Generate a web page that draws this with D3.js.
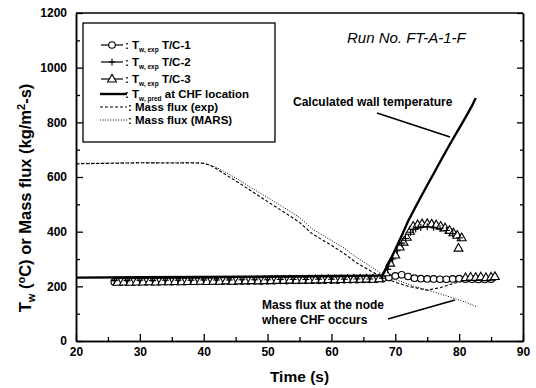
<!DOCTYPE html>
<html><head><meta charset="utf-8">
<script src="https://cdn.jsdelivr.net/npm/d3@7"></script>
<style>
body{margin:0;background:#fff}
text{font-family:"Liberation Sans",Arial,sans-serif;fill:#000}
</style>
</head><body>
<svg id="c" width="536" height="388"></svg>
<script>
// ---------------- data ----------------
const xTicks = [20,30,40,50,60,70,80,90];
const xMinor = [25,35,45,55,65,75,85];
const yTicks = [0,200,400,600,800,1000,1200];
const yMinor = [100,300,500,700,900,1100];

// T_w,exp T/C-1 (circles)
const tc1Time = [26,27,28,29,30,31,32,33,34,35,36,37,38,39,40,41,42,43,44,45,46,47,48,49,50,51,52,53,54,55,56,57,58,59,60,61,62,63,64,65,66,67,68,69,70,71,72,73,74,75,76,77,78,79,80,81,82,83,84,85];
const tc1 =     [216,217,216,217,218,217,217,218,218,217,218,218,219,218,219,219,219,220,219,220,220,220,221,220,221,221,222,221,222,222,222,223,222,223,223,223,224,224,224,225,225,226,228,232,238,242,236,230,228,227,227,226,226,227,228,226,226,225,225,226];

// T_w,exp T/C-2 (plus)
const tc2Time = [26,28,30,32,34,36,38,40,42,44,46,48,50,52,54,56,58,60,62,64,66,68,68.8,69.6,70.3,71,71.6,72.4,73.2,74,75,76,77,78,79,80.1];
const tc2 =     [221,221,222,221,222,222,222,223,223,223,224,224,224,225,225,225,226,226,226,227,227,230,262,300,330,358,375,398,410,415,418,416,412,404,393,378];

// T_w,exp T/C-3 (triangles); null breaks the line
const tc3Time = [26.5,27.5,28.5,29.5,30.5,31.5,32.5,33.5,34.5,35.5,36.5,37.5,38.5,39.5,40.5,41.5,42.5,43.5,44.5,45.5,46.5,47.5,48.5,49.5,50.5,51.5,52.5,53.5,54.5,55.5,56.5,57.5,58.5,59.5,60.5,61.5,62.5,63.5,64.5,65.5,66.5,67.5,68.5,69.2,70.0,70.7,71.3,71.8,72.3,72.8,73.5,74.2,75.0,75.7,76.4,77.1,77.8,78.5,79.1,79.7,80.4,80.4,79.9,79.9,81.0,81.8,82.6,83.4,84.2,85.0,85.6];
const tc3 =     [215,216,215,216,216,217,216,217,217,218,217,218,218,219,218,219,219,220,219,220,220,221,220,221,221,222,222,223,222,223,223,224,224,225,224,225,225,226,226,227,226,228,250,285,315,344,362,380,402,420,426,429,430,428,425,420,414,405,396,387,378,null,340,null,232,234,233,235,232,234,236];

// T_w,pred at CHF location (solid)
const predTime = [20,30,40,50,60,66,68,68.5,69,70,71,72,73,74,75,76,77,78,79,80,81,82,82.6];
const pred =     [232,233,234,236,238,239,240,262,285,335,385,438,483,527,570,612,655,697,738,778,818,860,889];

// Mass flux (exp) dashed
const mfExpTime = [20,25,30,35,38,40,41,42,43,45,47,50,53,55,57,60,62,64,66,67.6,68.5,70,72,75,77,79,81.5];
const mfExp =     [648,650,652,651,652,650,643,630,615,586,556,510,465,434,392,350,320,285,258,238,228,215,200,186,195,210,225];

// Mass flux (MARS) dotted
const mfMarsTime = [20,25,30,35,38,40,42,44,46,48,50,53,55,57,60,62,64,66,67.6,68.5,70,73,76,79,81,82.8];
const mfMars =     [650,651,652,652,652,651,635,610,582,553,525,482,452,410,368,340,305,275,250,240,225,200,180,158,142,125];

// ---------------- chart ----------------
const svg = d3.select("#c");
svg.append("rect").attr("width",536).attr("height",388).attr("fill","#fff");
const L=76,R=523,T=13,B=341;
const x = d3.scaleLinear().domain([20,90]).range([L,R]);
const y = d3.scaleLinear().domain([0,1200]).range([B,T]);

const zip = (ts,vs)=>ts.map((t,i)=>({t:t,v:vs[i]}));
const line = d3.line().defined(d=>d.v!=null).x(d=>x(d.t)).y(d=>y(d.v));

// axes
function styleAxis(g){ g.selectAll("path").attr("stroke","#000").attr("stroke-width",1.5);
  g.selectAll("line").attr("stroke","#000").attr("stroke-width",1.3);
  g.selectAll("text").attr("font-size",12).attr("font-weight","bold").attr("fill","#000"); }

svg.append("g").attr("transform",`translate(0,${B})`)
  .call(d3.axisBottom(x).tickValues(xTicks).tickSizeInner(-7).tickSizeOuter(0).tickPadding(6).tickFormat(d3.format("d")))
  .call(styleAxis);
svg.append("g").attr("transform",`translate(0,${B})`)
  .call(d3.axisBottom(x).tickValues(xMinor).tickSizeInner(-4).tickSizeOuter(0).tickFormat(""))
  .call(styleAxis);
svg.append("g").attr("transform",`translate(${L},0)`)
  .call(d3.axisLeft(y).tickValues(yTicks).tickSizeInner(-7).tickSizeOuter(0).tickPadding(9).tickFormat(d3.format("d")))
  .call(styleAxis);
svg.append("g").attr("transform",`translate(${L},0)`)
  .call(d3.axisLeft(y).tickValues(yMinor).tickSizeInner(-4).tickSizeOuter(0).tickFormat(""))
  .call(styleAxis);
svg.append("g").attr("transform",`translate(${R},0)`)
  .call(d3.axisRight(y).tickValues(yTicks).tickSizeInner(-6).tickSizeOuter(0).tickFormat(""))
  .call(styleAxis);
svg.append("g").attr("transform",`translate(${R},0)`)
  .call(d3.axisRight(y).tickValues(yMinor).tickSizeInner(-3).tickSizeOuter(0).tickFormat(""))
  .call(styleAxis);
svg.append("line").attr("x1",L).attr("x2",R).attr("y1",T).attr("y2",T).attr("stroke","#000").attr("stroke-width",1.5);

// mass flux lines
svg.append("path").datum(zip(mfMarsTime,mfMars)).attr("d",line)
  .attr("fill","none").attr("stroke","#000").attr("stroke-width",1).attr("stroke-dasharray","1,1.6");
svg.append("path").datum(zip(mfExpTime,mfExp)).attr("d",line)
  .attr("fill","none").attr("stroke","#000").attr("stroke-width",1.1).attr("stroke-dasharray","3,2");

// marker series lines
const d1 = zip(tc1Time,tc1), d2 = zip(tc2Time,tc2), d3s = zip(tc3Time,tc3);
[d1,d2,d3s].forEach(d=>svg.append("path").datum(d).attr("d",line)
  .attr("fill","none").attr("stroke","#000").attr("stroke-width",1));

const tri = d3.symbol().type(d3.symbolTriangle).size(34);
function circles(g,data){ g.selectAll("circle.m").data(data.filter(d=>d.v!=null)).join("circle")
  .attr("cx",d=>x(d.t)).attr("cy",d=>y(d.v)).attr("r",3.3)
  .attr("fill","#fff").attr("stroke","#000").attr("stroke-width",1.1); }
function pluses(g,data){ g.selectAll("path.p").data(data.filter(d=>d.v!=null)).join("path")
  .attr("d",d=>`M${x(d.t)-3.5},${y(d.v)}h7M${x(d.t)},${y(d.v)-3.5}v7`)
  .attr("stroke","#000").attr("stroke-width",1.1).attr("fill","none"); }
function tris(g,data){ g.selectAll("path.t").data(data.filter(d=>d.v!=null)).join("path")
  .attr("d",tri).attr("transform",d=>`translate(${x(d.t)},${y(d.v)+0.5})`)
  .attr("fill","#fff").attr("stroke","#000").attr("stroke-width",1.1); }
circles(svg.append("g"),d1);
tris(svg.append("g"),d3s);
pluses(svg.append("g"),d2);

// predicted wall temperature
svg.append("path").datum(zip(predTime,pred)).attr("d",line)
  .attr("fill","none").attr("stroke","#000").attr("stroke-width",2.4);

// annotations
svg.append("text").attr("x",347).attr("y",43).attr("font-size",15).attr("font-style","italic").text("Run No. FT-A-1-F");
svg.append("text").attr("x",293).attr("y",106).attr("font-size",12).attr("font-weight","bold").text("Calculated wall temperature");
svg.append("line").attr("x1",377).attr("y1",113).attr("x2",450).attr("y2",137).attr("stroke","#000").attr("stroke-width",1.8);
svg.append("text").attr("x",262).attr("y",309).attr("font-size",12).attr("font-weight","bold").text("Mass flux at the node");
svg.append("text").attr("x",262).attr("y",324).attr("font-size",12).attr("font-weight","bold").text("where CHF occurs");
svg.append("line").attr("x1",388).attr("y1",319).attr("x2",455).attr("y2",300).attr("stroke","#000").attr("stroke-width",1.8);

// axis titles
svg.append("text").attr("x",(L+R)/2).attr("y",382).attr("text-anchor","middle")
  .attr("font-size",15.5).attr("font-weight","bold").text("Time (s)");
const yl = svg.append("text").attr("transform","translate(31,198) rotate(-90)").attr("text-anchor","middle")
  .attr("font-size",16.5).attr("font-weight","bold");
yl.append("tspan").text("T");
yl.append("tspan").attr("font-size",11).attr("dy",4).text("w");
yl.append("tspan").attr("dy",-4).text(" (");
yl.append("tspan").attr("font-size",11).attr("dy",-6).text("o");
yl.append("tspan").attr("dy",6).text("C) or Mass flux (kg/m");
yl.append("tspan").attr("font-size",11).attr("dy",-6).text("2");
yl.append("tspan").attr("dy",6).text("-s)");

// legend
const lg = svg.append("g");
lg.append("rect").attr("x",83).attr("y",23).attr("width",192).attr("height",119)
  .attr("fill","#fff").attr("stroke","#000").attr("stroke-width",1.3);
const legRows = [45,62,79,94,107,120];
const legSub = ["w, exp","w, exp","w, exp","w, pred"];
const legTail = [" T/C-1"," T/C-2"," T/C-3"," at CHF location"];
const legPlain = ["Mass flux (exp)","Mass flux (MARS)"];
// symbols
[0,1,2].forEach(i=>{
  lg.append("line").attr("x1",101).attr("x2",123).attr("y1",legRows[i]).attr("y2",legRows[i]).attr("stroke","#000").attr("stroke-width",1.2);
});
lg.append("circle").attr("cx",112).attr("cy",legRows[0]).attr("r",3.3).attr("fill","#fff").attr("stroke","#000").attr("stroke-width",1.1);
lg.append("path").attr("d",`M108.5,${legRows[1]}h7M112,${legRows[1]-3.5}v7`).attr("stroke","#000").attr("stroke-width",1.1);
lg.append("path").attr("d",tri).attr("transform",`translate(112,${legRows[2]+0.5})`).attr("fill","#fff").attr("stroke","#000").attr("stroke-width",1.1);
lg.append("line").attr("x1",100).attr("x2",127).attr("y1",legRows[3]).attr("y2",legRows[3]).attr("stroke","#000").attr("stroke-width",2.4);
lg.append("line").attr("x1",100).attr("x2",127).attr("y1",legRows[4]).attr("y2",legRows[4]).attr("stroke","#000").attr("stroke-width",1.1).attr("stroke-dasharray","3,2");
lg.append("line").attr("x1",100).attr("x2",127).attr("y1",legRows[5]).attr("y2",legRows[5]).attr("stroke","#000").attr("stroke-width",1).attr("stroke-dasharray","1,1.6");
// texts
[0,1,2,3].forEach(i=>{
  const t = lg.append("text").attr("x",125).attr("y",legRows[i]+4).attr("font-size",11.5).attr("font-weight","bold");
  t.append("tspan").text(": T");
  t.append("tspan").attr("font-size",6.5).attr("dy",3).text(legSub[i]);
  t.append("tspan").attr("dy",-3).text(legTail[i]);
});
[0,1].forEach(i=>{
  lg.append("text").attr("x",128).attr("y",legRows[4+i]+4).attr("font-size",11.5).attr("font-weight","bold").text(": "+legPlain[i]);
});
</script>
</body></html>
